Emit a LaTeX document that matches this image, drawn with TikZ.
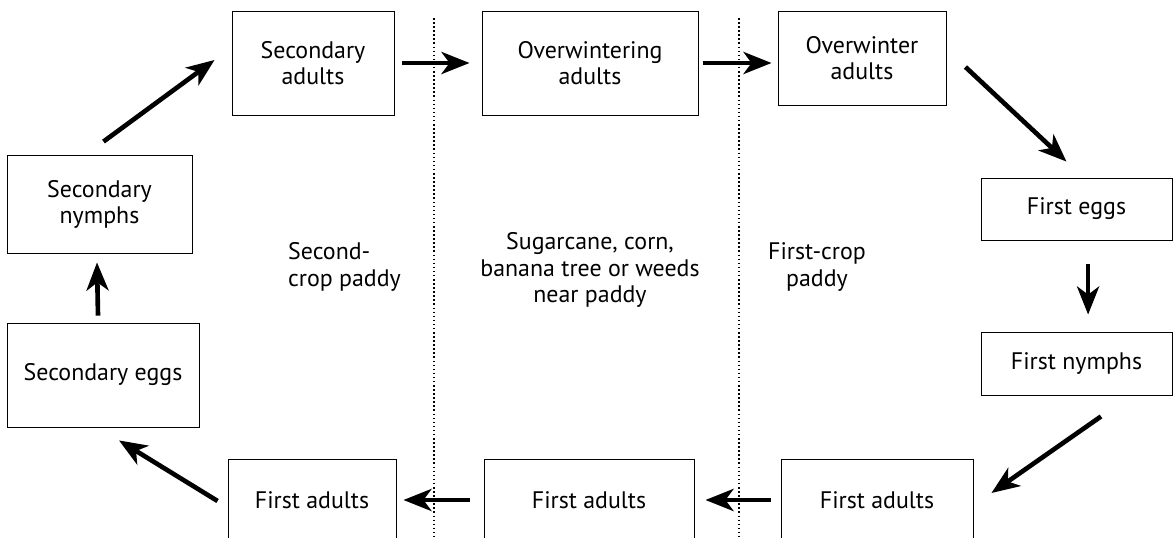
\documentclass[tikz,border=0pt]{standalone}
\usepackage{fontspec}
\setmainfont{PT Sans}
\usetikzlibrary{arrows.meta, calc}

\begin{document}
\begin{tikzpicture}[
    x=0.025cm, y=-0.025cm,
    stage/.style={rectangle, draw, line width=0.6pt, align=center, inner sep=0pt, font=\fontsize{17}{18.5}\selectfont},
    zone/.style={font=\fontsize{17}{19}\selectfont},
    arrow/.style={draw, line width=3.3pt, -{Stealth[length=0.7cm, width=0.55cm, inset=0.2cm]}},
    divider/.style={line width=1.3pt, dash pattern=on 1.1pt off 1.8pt}
]
\useasboundingbox (0,0) rectangle (1173,538);
\clip (0,0) rectangle (1173,538);

% Dividers
\draw[divider] (434,18) -- (434,540);
\draw[divider] (739,18) -- (739,540);

% Nodes
\node[stage, minimum width=4.05cm, minimum height=2.6cm] (sadult) at (313,63) {Secondary\\adults};
\node[stage, minimum width=5.4cm, minimum height=2.6cm] (owing) at (590,63) {Overwintering\\adults};
\node[stage, minimum width=4.2cm, minimum height=2.35cm] (owint) at (862,58) {Overwinter\\adults};
\node[stage, minimum width=4.775cm, minimum height=1.55cm] (feggs) at (1076.5,209) {First eggs};
\node[stage, minimum width=4.775cm, minimum height=1.575cm] (fnymph) at (1076.5,363.5) {First nymphs};
\node[stage, minimum width=4.8cm, minimum height=2.05cm] (fadR) at (877,500) {First adults};
\node[stage, minimum width=5.25cm, minimum height=2.05cm] (fadM) at (589,500) {First adults};
\node[stage, minimum width=4.2cm, minimum height=2.05cm] (fadL) at (312,500) {First adults};
\node[stage, minimum width=4.8cm, minimum height=2.6cm] (seggs) at (103,375) {Secondary eggs};
\node[stage, minimum width=4.625cm, minimum height=2.45cm] (snymph) at (99.5,204) {Secondary\\nymphs};

% Zones
\node[zone, align=left] (second) at (344.5,267) {Second-\\crop paddy};
\node[zone, align=center] (banana) at (590,270) {Sugarcane, corn,\\banana tree or weeds\\near paddy};
\node[zone, align=center] (first) at (817,267) {First-crop\\paddy};

% Arrows
\draw[arrow] ([shift={(4,-13)}]snymph.north) -- ([shift={(-17,-3)}]sadult.west);
\draw[arrow, shorten <=0.2cm, shorten >=0.3cm] (sadult) -- (owing);
\draw[arrow, shorten <=0.125cm, shorten >=0.15cm] (owing.east) -- (owing.east -| owint.west);
\draw[arrow] ([shift={(19,9)}]owint.east) -- ([shift={(-10,-16)}]feggs.north);
\draw[arrow, shorten <=0.6cm, shorten >=0.425cm] ([xshift=0.29cm]feggs.south) -- ([xshift=0.29cm]fnymph.north);
\draw[arrow] ([shift={(24.5,21)}]fnymph.south) -- ([shift={(18,-7)}]fadR.east);
\draw[arrow, shorten <=0.25cm, shorten >=0.275cm] (fadR) -- (fadM);
\draw[arrow, shorten <=0.35cm, shorten >=0.175cm] (fadM) -- (fadL);
\draw[arrow] ([shift={(-10,1)}]fadL.west) -- ([shift={(16,13)}]seggs.south);
\draw[arrow] ([shift={(-5,-7)}]seggs.north) -- ([shift={(-2.5,9)}]snymph.south);

\end{tikzpicture}
\end{document}
